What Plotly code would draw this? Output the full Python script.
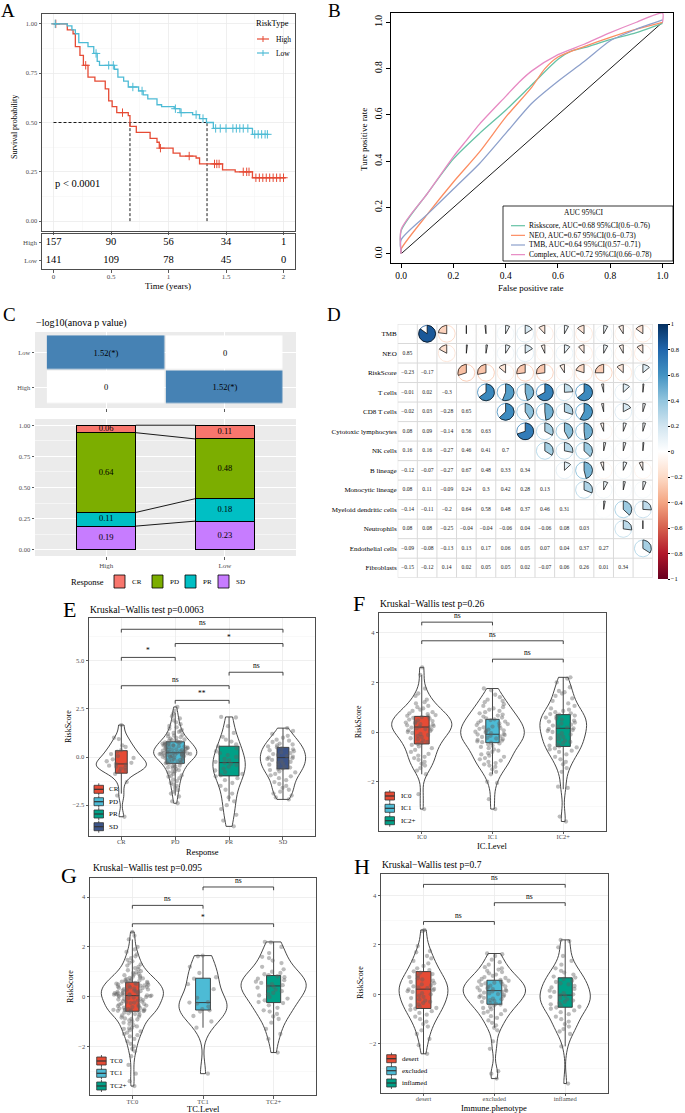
import numpy as np
import plotly.graph_objects as go

W, H = 685, 1113
FF = "Liberation Serif, Times New Roman, serif"
INK = "#333333"
TXT = "#4D4D4D"
GRID = "#EBEBEB"
NPG = ["#E64B35", "#4DBBD5", "#00A087", "#3C5488"]

# ---------------- A: Kaplan-Meier ----------------
km_high_time = [0, 0.12, 0.17, 0.19, 0.23, 0.26, 0.30, 0.36, 0.45, 0.48, 0.51, 0.55, 0.65, 0.665, 0.72, 0.84, 0.90, 0.92, 1.04, 1.10, 1.24, 1.27, 1.47, 1.58, 1.73, 2.02]
km_high_surv = [1.0, 0.97, 0.95, 0.885, 0.84, 0.79, 0.73, 0.71, 0.67, 0.61, 0.58, 0.55, 0.535, 0.48, 0.45, 0.42, 0.40, 0.37, 0.345, 0.33, 0.32, 0.29, 0.26, 0.25, 0.22, 0.22]
km_low_time = [0, 0.12, 0.16, 0.19, 0.22, 0.30, 0.35, 0.38, 0.40, 0.53, 0.56, 0.61, 0.65, 0.74, 0.78, 0.82, 0.90, 0.94, 1.05, 1.10, 1.21, 1.27, 1.33, 1.39, 1.73, 1.86]
km_low_surv = [1.0, 0.99, 0.97, 0.95, 0.905, 0.885, 0.85, 0.81, 0.79, 0.77, 0.73, 0.71, 0.68, 0.66, 0.64, 0.62, 0.59, 0.58, 0.57, 0.55, 0.54, 0.52, 0.50, 0.47, 0.44, 0.44]
km_high_censor = [0.02, 0.28, 0.60, 0.93, 1.18, 1.40, 1.42, 1.44, 1.65, 1.68, 1.70, 1.76, 1.79, 1.82, 1.85, 1.88, 1.91, 1.94, 1.97, 2.00]
km_low_censor = [0.015, 0.37, 0.48, 0.52, 0.69, 0.77, 1.06, 1.11, 1.24, 1.30, 1.41, 1.45, 1.50, 1.56, 1.59, 1.62, 1.65, 1.69, 1.75, 1.78, 1.81, 1.84, 1.86]
km_median_high = 0.665
km_median_low = 1.335
risk_times = [0, 0.5, 1, 1.5, 2]
risk_high = [157, 90, 56, 34, 1]
risk_low = [141, 109, 78, 45, 0]

# ---------------- B: ROC ----------------
roc_fpr_risk = [0, 0, 0.1, 0.2, 0.3, 0.4, 0.5, 0.6, 0.65, 0.7, 0.8, 0.9, 1.0]
roc_tpr_risk = [0, 0.10, 0.26, 0.41, 0.52, 0.62, 0.73, 0.84, 0.875, 0.89, 0.925, 0.955, 0.995]
roc_fpr_neo = [0, 0, 0.1, 0.2, 0.3, 0.4, 0.5, 0.55, 0.6, 0.7, 0.8, 0.9, 1.0]
roc_tpr_neo = [0, 0.02, 0.17, 0.31, 0.44, 0.59, 0.72, 0.80, 0.85, 0.895, 0.935, 0.97, 1.0]
roc_fpr_tmb = [0, 0, 0.1, 0.2, 0.3, 0.4, 0.5, 0.6, 0.7, 0.8, 0.9, 1.0]
roc_tpr_tmb = [0, 0.06, 0.17, 0.28, 0.39, 0.52, 0.65, 0.745, 0.83, 0.92, 0.97, 1.01]
roc_fpr_cpx = [0, 0, 0.1, 0.2, 0.25, 0.3, 0.4, 0.45, 0.5, 0.6, 0.7, 0.8, 0.9, 1.0, 1.0]
roc_tpr_cpx = [0, 0.105, 0.26, 0.42, 0.49, 0.56, 0.68, 0.74, 0.79, 0.86, 0.905, 0.955, 1.0, 1.04, 1.0]
roc_labels = ["Riskscore, AUC=0.68 95%CI(0.6\u22120.76)", "NEO, AUC=0.67 95%CI(0.6\u22120.73)",
              "TMB, AUC=0.64 95%CI(0.57\u22120.71)", "Complex, AUC=0.72 95%CI(0.66\u22120.78)"]
roc_colors = ["#66C2A5", "#FC8D62", "#8DA0CB", "#E78AC3"]

# ---------------- C ----------------
anova_z = [[0, 1.52], [1.52, 0]]          # rows: High, Low ; cols: High, Low
anova_text = [["0", "1.52(*)"], ["1.52(*)", "0"]]
anova_rows = ["High", "Low"]
resp_levels = ["CR", "PD", "PR", "SD"]
resp_colors = ["#F8766D", "#7CAE00", "#00BFC4", "#C77CFF"]
resp_high = [0.06, 0.64, 0.11, 0.19]
resp_low = [0.11, 0.48, 0.18, 0.23]
resp_groups = ["High", "Low"]

# ---------------- D: correlation ----------------
corr_labels = ["TMB", "NEO", "RiskScore", "T cells", "CD8 T cells", "Cytotoxic lymphocytes", "NK cells",
               "B lineage", "Monocytic lineage", "Myeloid dendritic cells", "Neutrophils",
               "Endothelial cells", "Fibroblasts"]
corr_lower = [
    [],
    [0.85],
    [-0.23, -0.17],
    [-0.01, 0.02, -0.3],
    [-0.02, 0.03, -0.28, 0.65],
    [0.08, 0.09, -0.14, 0.56, 0.63],
    [0.16, 0.16, -0.27, 0.46, 0.41, 0.7],
    [-0.12, -0.07, -0.27, 0.67, 0.48, 0.33, 0.34],
    [0.08, 0.11, -0.09, 0.24, 0.3, 0.42, 0.28, 0.13],
    [-0.14, -0.11, -0.2, 0.64, 0.58, 0.48, 0.37, 0.46, 0.31],
    [0.08, 0.08, -0.25, -0.04, -0.04, -0.06, 0.04, -0.06, 0.08, 0.03],
    [-0.09, -0.08, -0.13, 0.13, 0.17, 0.06, 0.05, 0.07, 0.04, 0.37, 0.27],
    [-0.15, -0.12, 0.14, 0.02, 0.05, 0.05, 0.02, -0.07, 0.06, 0.26, 0.01, 0.34],
]
RDBU = ["#67001F", "#B2182B", "#D6604D", "#F4A582", "#FDDBC7", "#FFFFFF",
        "#D1E5F0", "#92C5DE", "#4393C3", "#2166AC", "#053061"]

# ---------------- E: Response ----------------
E_cats = ["CR", "PD", "PR", "SD"]
E_CR = [1.66, 1.0, 0.93, 0.6, 0.52, 0.35, 0.28, 0.15, 0.05, -0.05, -0.12, -0.22, -0.3, -0.36, -0.4, -0.45,
        -0.5, -0.55, -0.6, -0.68, -0.75, -0.88, -1.3, -2.0, -3.1]
E_PD = [-2.4, -2.3, -2.05, -1.9, -1.8, -1.72, -1.6, -1.5, -1.42, -1.35, -1.25, -1.18, -1.1, -1.02, -0.98, -0.95,
        -0.88, -0.8, -0.77, -0.74, -0.68, -0.62, -0.58, -0.55, -0.5, -0.48, -0.45, -0.4, -0.36, -0.33,
        -0.31, -0.28, -0.26, -0.23, -0.2, -0.18, -0.15, -0.12, -0.1, -0.08, -0.05, -0.03, -0.01, 0.01, 0.03,
        0.05, 0.06, 0.08, 0.09, 0.11, 0.12, 0.13, 0.15, 0.16, 0.17, 0.18, 0.19, 0.2, 0.21, 0.22,
        0.24, 0.26, 0.27, 0.29, 0.31, 0.33, 0.35, 0.36, 0.38, 0.4, 0.42, 0.44, 0.46, 0.48, 0.5, 0.52, 0.54,
        0.56, 0.58, 0.6, 0.62, 0.64, 0.66, 0.68, 0.7, 0.72, 0.74, 0.76, 0.78, 0.79,
        0.82, 0.85, 0.88, 0.91, 0.95, 0.99, 1.03, 1.07, 1.11, 1.15, 1.2, 1.25, 1.3, 1.35, 1.41, 1.47, 1.54,
        1.61, 1.7, 1.8, 1.9, 2.0, 2.12, 2.25, 2.4, 2.6]
E_PR = [2.08, 2.05, 1.6, 1.25, 1.05, 0.9, 0.8, 0.65, 0.55, 0.45, 0.3, 0.2, 0.1, 0.0, -0.1, -0.18, -0.25, -0.3,
        -0.35, -0.42, -0.5, -0.6, -0.7, -0.78, -0.88, -0.95, -1.0, -1.1, -1.2, -1.35, -1.5, -1.7, -1.9, -2.1,
        -2.3, -2.5, -2.7, -3.0, -3.3, -3.6]
E_SD = [1.5, 1.35, 1.2, 1.1, 1.0, 0.9, 0.85, 0.78, 0.7, 0.65, 0.6, 0.55, 0.5, 0.45, 0.4, 0.35, 0.3, 0.25, 0.2,
        0.15, 0.1, 0.05, 0.02, -0.03, -0.06, -0.1, -0.15, -0.2, -0.25, -0.3, -0.35, -0.4, -0.45, -0.5, -0.55,
        -0.6, -0.62, -0.68, -0.75, -0.8, -0.88, -0.95, -1.0, -1.1, -1.2, -1.3, -1.4, -1.5, -1.6, -1.7, -1.8,
        -1.9, -2.0, -2.1, -2.2]
E_q1 = [-0.84, -0.33, -0.98, -0.62]
E_med = [-0.36, 0.22, -0.29, -0.03]
E_q3 = [0.33, 0.79, 0.56, 0.50]
E_lo = [-1.9, -2.0, -2.3, -2.2]
E_hi = [1.68, 2.3, 2.07, 1.5]
E_br_from = [1, 2, 1, 3, 1, 2]
E_br_to = [4, 4, 2, 4, 3, 3]
E_br_y = [6.63, 5.89, 5.17, 4.40, 3.70, 2.94]
E_br_lab = ["ns", "*", "*", "ns", "ns", "**"]

# ---------------- F: IC level ----------------
F_cats = ["IC0", "IC1", "IC2+"]
F_IC0 = [2.6, 2.3, 1.75, 1.55, 1.45, 1.3, 1.2, 1.15, 1.05, 1.0, 0.95, 0.9, 0.85, 0.8, 0.75, 0.72, 0.68, 0.65,
         0.63, 0.6, 0.57, 0.54, 0.5, 0.47, 0.44, 0.41, 0.38, 0.35, 0.32, 0.3, 0.27, 0.24, 0.22, 0.2, 0.18,
         0.15, 0.12, 0.1, 0.07, 0.04, 0.0, -0.04, -0.08, -0.12, -0.16, -0.2, -0.25, -0.3, -0.35, -0.4, -0.45,
         -0.48, -0.52, -0.58, -0.65, -0.72, -0.8, -0.88, -0.95, -1.0, -1.05, -1.12, -1.2, -1.28, -1.35,
         -1.45, -1.55, -1.7, -2.5, -3.1]
F_IC1 = [1.75, 1.68, 1.5, 1.4, 1.3, 1.25, 1.2, 1.12, 1.05, 1.0, 0.95, 0.9, 0.85, 0.8, 0.75, 0.7, 0.66, 0.62,
         0.58, 0.55, 0.51, 0.48, 0.45, 0.42, 0.38, 0.35, 0.32, 0.28, 0.25, 0.22, 0.19, 0.16, 0.13, 0.1, 0.07,
         0.04, 0.01, -0.02, -0.05, -0.08, -0.1, -0.12, -0.15, -0.18, -0.2, -0.23, -0.26, -0.29, -0.32, -0.35,
         -0.38, -0.41, -0.43, -0.46, -0.5, -0.55, -0.6, -0.65, -0.7, -0.75, -0.8, -0.85, -0.9, -0.95, -1.0,
         -1.05, -1.1, -1.15, -1.2, -1.25, -1.3, -1.35, -1.4, -1.5, -1.6, -1.7, -2.0, -2.05, -2.7, -3.1]
F_IC2 = [2.2, 2.15, 2.0, 1.8, 1.65, 1.6, 1.55, 1.45, 1.35, 1.25, 1.15, 1.05, 0.95, 0.9, 0.85, 0.8, 0.75, 0.72,
         0.7, 0.66, 0.62, 0.58, 0.54, 0.5, 0.46, 0.42, 0.38, 0.34, 0.3, 0.26, 0.22, 0.18, 0.15, 0.12, 0.08,
         0.04, 0.0, -0.05, -0.1, -0.15, -0.2, -0.25, -0.3, -0.35, -0.4, -0.45, -0.5, -0.55, -0.58, -0.62,
         -0.66, -0.7, -0.75, -0.8, -0.9, -1.0, -1.1, -1.2, -1.3, -1.45, -1.6, -2.2, -2.25, -3.4, -3.6]
F_q1 = [-0.48, -0.43, -0.58]
F_med = [0.20, -0.09, 0.15]
F_q3 = [0.63, 0.51, 0.70]
F_lo = [-1.7, -1.7, -2.3]
F_hi = [2.3, 1.75, 2.2]
F_br_from = [1, 1, 2]
F_br_to = [2, 3, 3]
F_br_y = [4.42, 3.67, 2.93]
F_br_lab = ["ns", "ns", "ns"]

# ---------------- G: TC level ----------------
G_cats = ["TC0", "TC1", "TC2+"]
G_TC0 = [2.6, 2.45, 2.3, 2.0, 1.9, 1.8, 1.7, 1.62, 1.55, 1.48, 1.42, 1.36, 1.3, 1.25, 1.2, 1.15, 1.1, 1.06,
         1.02, 0.98, 0.95, 0.92, 0.89, 0.86, 0.83, 0.8, 0.77, 0.75, 0.73, 0.71, 0.69, 0.67, 0.65, 0.63, 0.61,
         0.6, 0.59, 0.57, 0.55, 0.54, 0.52, 0.5, 0.49, 0.47, 0.45, 0.44, 0.42, 0.4, 0.39, 0.37, 0.35, 0.34,
         0.32, 0.3, 0.29, 0.27, 0.25, 0.24, 0.22, 0.2, 0.19, 0.17, 0.16, 0.14, 0.13, 0.12, 0.1, 0.09, 0.08,
         0.07, 0.06, 0.05, 0.05, 0.04, 0.03, 0.02, 0.0, -0.02, -0.04, -0.06, -0.08, -0.1, -0.12, -0.14, -0.16,
         -0.18, -0.2, -0.22, -0.24, -0.26, -0.28, -0.3, -0.32, -0.34, -0.36, -0.38, -0.4, -0.42, -0.44, -0.46,
         -0.48, -0.5, -0.51, -0.52, -0.53, -0.54, -0.55, -0.56, -0.57, -0.58, -0.59, -0.61, -0.64, -0.67,
         -0.7, -0.73, -0.76, -0.8, -0.84, -0.88, -0.9, -0.92, -0.96, -1.0, -1.05, -1.1, -1.15, -1.2, -1.25,
         -1.28, -1.3, -1.35, -1.4, -1.45, -1.5, -1.55, -1.6, -1.7, -1.8, -1.9, -2.0, -2.1, -2.2, -2.4, -2.75,
         -3.1, -3.4, -3.6]
G_TC1 = [1.65, 1.62, 1.2, 0.95, 0.78, 0.72, 0.5, 0.3, -0.05, -0.22, -0.24, -0.28, -0.4, -0.5, -0.55, -0.6,
         -0.78, -1.0, -1.25, -3.1]
G_TC2 = [2.2, 2.18, 2.0, 1.75, 1.6, 1.55, 1.45, 1.35, 1.2, 1.1, 1.0, 0.95, 0.9, 0.86, 0.82, 0.78, 0.72, 0.66,
         0.6, 0.55, 0.5, 0.46, 0.43, 0.4, 0.36, 0.32, 0.28, 0.22, 0.15, 0.1, 0.05, -0.02, -0.08, -0.15, -0.22,
         -0.26, -0.35, -0.45, -0.55, -0.6, -0.7, -0.8, -0.9, -1.05, -1.3, -1.5, -1.7, -2.25]
G_q1 = [-0.59, -0.54, -0.24]
G_med = [0.04, -0.24, 0.43]
G_q3 = [0.58, 0.74, 0.85]
G_lo = [-2.2, -1.25, -2.25]
G_hi = [2.3, 1.65, 2.2]
G_br_from = [2, 1, 1]
G_br_to = [3, 2, 3]
G_br_y = [4.41, 3.67, 2.93]
G_br_lab = ["ns", "ns", "*"]

# ---------------- H: Immune phenotype ----------------
H_cats = ["desert", "excluded", "inflamed"]
H_des = [2.6, 2.55, 1.95, 1.75, 1.7, 1.55, 1.45, 1.35, 1.25, 1.15, 1.05, 0.98, 0.93, 0.88, 0.82, 0.76, 0.7,
         0.65, 0.6, 0.55, 0.5, 0.45, 0.4, 0.36, 0.32, 0.28, 0.25, 0.22, 0.2, 0.17, 0.13, 0.1, 0.05, 0.0,
         -0.05, -0.1, -0.15, -0.2, -0.25, -0.3, -0.35, -0.4, -0.45, -0.5, -0.55, -0.58, -0.62, -0.68, -0.75,
         -0.82, -0.9, -1.0, -1.1, -1.2, -1.3, -1.45, -1.6, -1.8, -2.05, -2.4]
H_exc = [1.65, 1.62, 1.55, 1.4, 1.3, 1.2, 1.1, 1.05, 1.0, 0.95, 0.9, 0.85, 0.8, 0.75, 0.7, 0.66, 0.62, 0.58,
         0.55, 0.52, 0.5, 0.47, 0.44, 0.41, 0.38, 0.35, 0.32, 0.3, 0.27, 0.24, 0.21, 0.18, 0.16, 0.14, 0.12,
         0.1, 0.07, 0.04, 0.01, -0.02, -0.05, -0.08, -0.11, -0.14, -0.17, -0.2, -0.23, -0.26, -0.3, -0.34,
         -0.38, -0.41, -0.45, -0.5, -0.55, -0.6, -0.65, -0.7, -0.75, -0.8, -0.88, -0.95, -1.05, -1.15, -1.25,
         -1.35, -1.45, -1.9, -2.2, -3.1, -3.2, -3.4]
H_inf = [2.2, 2.15, 1.9, 1.55, 1.35, 1.2, 1.05, 0.95, 0.88, 0.8, 0.72, 0.68, 0.62, 0.55, 0.5, 0.45, 0.4, 0.34,
         0.28, 0.22, 0.15, 0.1, 0.05, 0.0, -0.03, -0.06, -0.1, -0.15, -0.2, -0.25, -0.3, -0.35, -0.4, -0.45,
         -0.5, -0.53, -0.58, -0.65, -0.72, -0.8, -0.9, -1.0, -1.1, -1.2, -1.3, -1.4, -1.5, -1.6, -2.1, -3.6]
H_q1 = [-0.57, -0.40, -0.52]
H_med = [0.21, 0.15, -0.03]
H_q3 = [0.92, 0.57, 0.67]
H_lo = [-2.4, -1.35, -2.1]
H_hi = [2.6, 1.65, 2.2]
H_br_from = [1, 2, 1]
H_br_to = [3, 3, 2]
H_br_y = [4.44, 3.70, 2.94]
H_br_lab = ["ns", "ns", "ns"]

# ================= helpers =================
def X(p):
    return p / W


def Y(p):
    return 1 - p / H


def xdom(a, b):
    return [a / W, b / W]


def ydom(top, bot):
    return [1 - bot / H, 1 - top / H]


fig = go.Figure()
shapes = []
annos = []


def text(x, y, s, size, xanchor="center", yanchor="middle", color="black", angle=0, xref="paper", yref="paper"):
    if xref == "paper":
        x = X(x)
    if yref == "paper":
        y = Y(y)
    annos.append(dict(x=x, y=y, xref=xref, yref=yref, text=s, showarrow=False, xanchor=xanchor,
                      yanchor=yanchor, textangle=angle, borderpad=0,
                      font=dict(size=size, color=color, family=FF)))


def pline(x0, y0, x1, y1, color=INK, width=0.8, dash=None):
    ln = dict(color=color, width=width)
    if dash:
        ln["dash"] = dash
    shapes.append(dict(type="line", xref="paper", yref="paper", x0=X(x0), y0=Y(y0), x1=X(x1), y1=Y(y1), line=ln))


def prect(x0, y0, x1, y1, fill, color=INK, width=0.8):
    shapes.append(dict(type="rect", xref="paper", yref="paper", x0=X(x0), y0=Y(y1), x1=X(x1), y1=Y(y0),
                       fillcolor=fill, line=dict(color=color, width=width)))


def bw_axis(domain, rng, anchor, dtick=None, tick0=0, fmt=None, labels=True, minor=None,
            tickvals=None, ticktext=None, grid=True, size=6.5, standoff=0):
    a = dict(domain=domain, range=rng, anchor=anchor, showline=True, mirror=True, linecolor=TXT, linewidth=1,
             ticks="outside", ticklen=2.5, tickwidth=0.8, tickcolor=INK,
             tickfont=dict(size=size, color=TXT), showgrid=grid, gridcolor=GRID, gridwidth=0.8,
             zeroline=False, showticklabels=labels)
    if standoff:
        a["ticklabelstandoff"] = standoff
    if tickvals is not None:
        a.update(tickmode="array", tickvals=tickvals)
        if ticktext is not None:
            a["ticktext"] = ticktext
    elif dtick is not None:
        a.update(tickmode="linear", tick0=tick0, dtick=dtick)
    if fmt:
        a["tickformat"] = fmt
    if minor:
        a["minor"] = dict(dtick=minor, tick0=tick0, showgrid=True, gridcolor="#F3F3F3", gridwidth=0.5, ticks="")
    return a


def hex2rgb(h):
    return tuple(int(h[i:i + 2], 16) for i in (1, 3, 5))


def corr_color(r):
    t = (r + 1) / 2 * (len(RDBU) - 1)
    i = min(int(np.floor(t)), len(RDBU) - 2)
    f = t - i
    a, b = hex2rgb(RDBU[i]), hex2rgb(RDBU[i + 1])
    c = [round(a[k] + (b[k] - a[k]) * f) for k in range(3)]
    return "rgb(%d,%d,%d)" % tuple(c)


layout_axes = {}

# ================= A =================
layout_axes["xaxis"] = bw_axis(xdom(42, 295), [-0.1, 2.1], "y", dtick=0.5, labels=False, minor=0.25)
layout_axes["yaxis"] = bw_axis(ydom(14, 231), [-0.05, 1.05], "x", dtick=0.25, fmt=".2f", minor=0.125)
layout_axes["xaxis2"] = bw_axis(xdom(42, 295), [-0.1, 2.1], "y2", dtick=0.5, grid=False, size=7, standoff=-2)
layout_axes["yaxis2"] = bw_axis(ydom(234, 269), [-0.5, 1.5], "x2", tickvals=[0, 1], ticktext=["Low", "High"],
                                grid=False, size=7)

for m in [km_median_high, km_median_low]:
    fig.add_trace(go.Scatter(x=[m, m], y=[0, 0.5], mode="lines", xaxis="x", yaxis="y", hoverinfo="skip",
                             line=dict(color="black", width=0.9, dash="3px,2px")))
fig.add_trace(go.Scatter(x=[0, km_median_low], y=[0.5, 0.5], mode="lines", xaxis="x", yaxis="y", hoverinfo="skip",
                         line=dict(color="black", width=0.9, dash="3px,2px")))
for times, surv, cens, col in [(km_high_time, km_high_surv, km_high_censor, NPG[0]),
                               (km_low_time, km_low_surv, km_low_censor, NPG[1])]:
    fig.add_trace(go.Scatter(x=times, y=surv, mode="lines", xaxis="x", yaxis="y", hoverinfo="skip",
                             line=dict(color=col, width=1.3, shape="hv")))
    sv = np.asarray(surv)
    cy = [float(sv[np.searchsorted(times, t, side="right") - 1]) for t in cens]
    fig.add_trace(go.Scatter(x=cens, y=cy, mode="markers", xaxis="x", yaxis="y", hoverinfo="skip",
                             marker=dict(symbol="cross-thin", size=6, line=dict(color=col, width=1))))
fig.add_trace(go.Scatter(x=risk_times, y=[1] * len(risk_times), mode="text", text=[str(v) for v in risk_high],
                         xaxis="x2", yaxis="y2", textfont=dict(size=10.5, color="black"), hoverinfo="skip"))
fig.add_trace(go.Scatter(x=risk_times, y=[0] * len(risk_times), mode="text", text=[str(v) for v in risk_low],
                         xaxis="x2", yaxis="y2", textfont=dict(size=10.5, color="black"), hoverinfo="skip"))
text(0.0, 0.19, "p &lt; 0.0001", 10.5, xanchor="left", xref="x", yref="y")
text(15, 127, "Survival probability", 8, angle=-90)
text(168, 286, "Time (years)", 9)
# legend A
text(290, 23, "RiskType", 8.5, xanchor="right")
for k, (lab, col) in enumerate([("High", NPG[0]), ("Low", NPG[1])]):
    yy = 39 + 14 * k
    pline(257, yy, 269, yy, color=col, width=1.2)
    pline(263, yy - 3, 263, yy + 3, color=col, width=1)
    text(275, yy, lab, 7.5, xanchor="left")

# ================= B =================
rax = dict(showline=True, mirror=True, linecolor="black", linewidth=1, ticks="outside", ticklen=4,
           tickcolor="black", tickfont=dict(size=9.5, color="black"), showgrid=False, zeroline=False,
           tickmode="linear", tick0=0, dtick=0.2, tickformat=".1f")
layout_axes["xaxis3"] = dict(rax, domain=xdom(390.7, 673), range=[-0.04, 1.04], anchor="y3")
layout_axes["yaxis3"] = dict(rax, domain=ydom(13, 263), range=[-0.04, 1.04], anchor="x3", tickangle=-90)
fig.add_trace(go.Scatter(x=[0, 1], y=[0, 1], mode="lines", xaxis="x3", yaxis="y3", hoverinfo="skip",
                         line=dict(color="black", width=0.9)))
for fx, ty, col in [(roc_fpr_risk, roc_tpr_risk, roc_colors[0]), (roc_fpr_neo, roc_tpr_neo, roc_colors[1]),
                    (roc_fpr_tmb, roc_tpr_tmb, roc_colors[2]), (roc_fpr_cpx, roc_tpr_cpx, roc_colors[3])]:
    fig.add_trace(go.Scatter(x=fx, y=ty, mode="lines", xaxis="x3", yaxis="y3", hoverinfo="skip",
                             line=dict(color=col, width=1.3, shape="spline", smoothing=0.7)))
prect(503, 206, 673, 261, "white", color="black", width=0.8)
text(583, 212, "AUC 95%CI", 7.5)
for k, (lab, col) in enumerate(zip(roc_labels, roc_colors)):
    yy = 225.7 + 9.65 * k
    pline(511, yy, 525, yy, color=col, width=1.2)
    text(528, yy, lab, 7.5, xanchor="left")
text(530, 288, "False positive rate", 9)
text(364, 140, "Ture positive rate", 9, angle=-90)

# ================= C =================
gax = dict(showline=False, ticks="outside", ticklen=2.5, tickwidth=0.8, tickcolor=INK,
           tickfont=dict(size=6.5, color=TXT), showgrid=True, gridcolor="white", gridwidth=1, zeroline=False)
layout_axes["xaxis4"] = dict(gax, domain=xdom(35, 296), range=[0.4, 2.6], anchor="y4", tickmode="array",
                             tickvals=[1, 2], ticktext=["", ""])
layout_axes["yaxis4"] = dict(gax, domain=ydom(332, 408), range=[0.4, 2.6], anchor="x4", tickmode="array",
                             tickvals=[1, 2], ticktext=anova_rows)
layout_axes["xaxis5"] = dict(gax, domain=xdom(35, 296), range=[0.4, 2.6], anchor="y5", tickmode="array",
                             tickvals=[1, 2], ticktext=resp_groups, tickfont=dict(size=7, color=TXT))
layout_axes["yaxis5"] = dict(gax, domain=ydom(419, 556), range=[-0.05, 1.05], anchor="x5", tickmode="linear",
                             tick0=0, dtick=0.25, tickformat=".2f",
                             minor=dict(dtick=0.125, tick0=0, showgrid=True, gridcolor="white", gridwidth=0.5,
                                        ticks=""))
for ax in ["x4", "x5"]:
    yref = "y4" if ax == "x4" else "y5"
    shapes.append(dict(type="rect", xref=ax + " domain", yref=yref + " domain", x0=0, x1=1, y0=0, y1=1,
                       fillcolor="#EBEBEB", line=dict(width=0), layer="below"))
fig.add_trace(go.Heatmap(x=[1, 2], y=[1, 2], z=anova_z, text=anova_text, texttemplate="%{text}",
                         textfont=dict(size=8.5, color="black", family=FF),
                         colorscale=[[0, "white"], [1, "#4682B4"]], zmin=0, zmax=1.52, showscale=False,
                         xgap=1.5, ygap=1.5, xaxis="x4", yaxis="y4", hoverinfo="skip"))
text(35, 323, "\u2212log10(anova p value)", 10, xanchor="left")

bar_width = 0.5
stack_order = [3, 2, 1, 0]  # SD bottom ... CR top
for k in stack_order:
    fig.add_trace(go.Bar(x=[1, 2], y=[resp_high[k], resp_low[k]], width=bar_width, xaxis="x5", yaxis="y5",
                         marker=dict(color=resp_colors[k], line=dict(color="black", width=1)), hoverinfo="skip"))
vh = np.array([resp_high[k] for k in stack_order])
vl = np.array([resp_low[k] for k in stack_order])
ch, cl = np.cumsum(vh), np.cumsum(vl)
fig.add_trace(go.Scatter(x=[1] * 4 + [2] * 4, y=list(ch - vh / 2) + list(cl - vl / 2), mode="text",
                         text=["%.2f" % v for v in vh] + ["%.2f" % v for v in vl], xaxis="x5", yaxis="y5",
                         textfont=dict(size=8.5, color="black"), hoverinfo="skip"))
for a, b in zip(ch, cl):
    fig.add_trace(go.Scatter(x=[1 + bar_width / 2, 2 - bar_width / 2], y=[a, b], mode="lines", xaxis="x5",
                             yaxis="y5", line=dict(color="black", width=0.9), hoverinfo="skip"))
# legend C
text(70, 582, "Response", 8.5, xanchor="left")
for k, (lab, col) in enumerate(zip(resp_levels, resp_colors)):
    x0 = [114, 152, 185, 218][k]
    prect(x0, 575, x0 + 11, 588, col, color="black", width=0.8)
    text(x0 + 17, 582, lab, 7, xanchor="left")

# ================= D =================
n = len(corr_labels)
M = np.eye(n)
for i, row in enumerate(corr_lower):
    for j, v in enumerate(row):
        M[i, j] = v
        M[j, i] = v
layout_axes["xaxis6"] = dict(domain=xdom(397.7, 652.7), range=[0.5, n + 0.5], anchor="y6", showgrid=False,
                             zeroline=False, showticklabels=False, ticks="")
layout_axes["yaxis6"] = dict(domain=ydom(324, 577.7), range=[n + 0.5, 0.5], anchor="x6", showgrid=False,
                             zeroline=False, tickmode="array", tickvals=list(range(1, n + 1)),
                             ticktext=corr_labels, ticks="", tickfont=dict(size=7, color="black"))
for k in range(n + 1):
    g = k + 0.5
    shapes.append(dict(type="line", xref="x6", yref="y6", x0=g, x1=g, y0=0.5, y1=n + 0.5,
                       line=dict(color="#D9D9D9", width=1), layer="below"))
    shapes.append(dict(type="line", xref="x6", yref="y6", x0=0.5, x1=n + 0.5, y0=g, y1=g,
                       line=dict(color="#D9D9D9", width=1), layer="below"))
R = 0.43
circ = np.linspace(0, 2 * np.pi, 61)
for i in range(n):
    for j in range(i + 1, n):
        r = M[i, j]
        cx, cy = j + 1, i + 1
        col = corr_color(r)
        fig.add_trace(go.Scatter(x=cx + R * np.sin(circ), y=cy - R * np.cos(circ), mode="lines", xaxis="x6",
                                 yaxis="y6", line=dict(color=col, width=0.8), hoverinfo="skip"))
        ang = np.linspace(0, 2 * np.pi * r, max(3, int(abs(r) * 80) + 2))
        px_ = [cx] + list(cx + R * np.sin(ang)) + [cx]
        py_ = [cy] + list(cy - R * np.cos(ang)) + [cy]
        fig.add_trace(go.Scatter(x=px_, y=py_, mode="lines", fill="toself", fillcolor=col, xaxis="x6",
                                 yaxis="y6", line=dict(color="black", width=0.7), hoverinfo="skip"))
lx, ly, lt = [], [], []
for i in range(n):
    for j in range(i):
        lx.append(j + 1)
        ly.append(i + 1)
        lt.append(("%g" % M[i, j]).replace("-", "\u2212"))
fig.add_trace(go.Scatter(x=lx, y=ly, text=lt, mode="text", xaxis="x6", yaxis="y6",
                         textfont=dict(size=5.6, color="#222222"), hoverinfo="skip"))
cb_vals = [1, 0.8, 0.6, 0.4, 0.2, 0, -0.2, -0.4, -0.6, -0.8, -1]
fig.add_trace(go.Scatter(x=[1], y=[1], mode="markers", xaxis="x6", yaxis="y6", hoverinfo="skip",
                         marker=dict(size=1, opacity=0, color=[0], cmin=-1, cmax=1,
                                     colorscale=[[k / 10, c] for k, c in enumerate(RDBU)], showscale=True,
                                     colorbar=dict(x=X(658), xanchor="left", y=Y(451.5), yanchor="middle",
                                                   len=(579 - 324) / H, lenmode="fraction", thickness=10,
                                                   thicknessmode="pixels", outlinewidth=0, xpad=0, ypad=0,
                                                   tickmode="array", tickvals=cb_vals,
                                                   ticktext=[("%g" % v).replace("-", "\u2212") for v in cb_vals],
                                                   ticks="outside", ticklen=2, tickcolor="black",
                                                   tickfont=dict(size=6.5, color="black", family=FF)))))


# ================= E-H =================
def vpanel(ax, groups, cats, q1, med, q3, lo, hi, vwid, bwid, pwid, bfrom, bto, by, blab, tip):
    xa, ya = "x" + ax, "y" + ax
    for k, vals in enumerate(groups):
        y = np.asarray(vals, dtype=float)
        iqr = np.percentile(y, 75) - np.percentile(y, 25)
        bwd = 0.9 * min(y.std(ddof=1), iqr / 1.34) * len(y) ** -0.2
        fig.add_trace(go.Violin(x=[k + 1] * len(vals), y=vals, xaxis=xa, yaxis=ya, points=False,
                                spanmode="hard", bandwidth=bwd, width=vwid[k], scalemode="width",
                                fillcolor="white", line=dict(color=INK, width=0.9), hoverinfo="skip",
                                box_visible=False, meanline_visible=False))
    for k in range(len(groups)):
        fig.add_trace(go.Box(x=[k + 1], q1=[q1[k]], median=[med[k]], q3=[q3[k]], lowerfence=[lo[k]],
                             upperfence=[hi[k]], orientation="v", width=bwid[k], xaxis=xa, yaxis=ya,
                             fillcolor=NPG[k], line=dict(color=INK, width=0.9), whiskerwidth=0,
                             boxpoints=False, hoverinfo="skip"))
    for k, vals in enumerate(groups):
        fig.add_trace(go.Box(x=[k + 1] * len(vals), y=vals, xaxis=xa, yaxis=ya, boxpoints="all", jitter=1,
                             pointpos=0, width=pwid, fillcolor="rgba(0,0,0,0)",
                             line=dict(color="rgba(0,0,0,0)", width=0), whiskerwidth=0, hoverinfo="skip",
                             marker=dict(color="rgba(95,95,95,0.42)", size=4.3)))
    for a, b, yv, lab in zip(bfrom, bto, by, blab):
        fig.add_trace(go.Scatter(x=[a, a, b, b], y=[yv - tip, yv, yv, yv - tip], mode="lines", xaxis=xa,
                                 yaxis=ya, line=dict(color=INK, width=0.9), hoverinfo="skip"))
        annos.append(dict(x=(a + b) / 2, y=yv, xref=xa, yref=ya, text=lab, showarrow=False, yanchor="bottom",
                          yshift=0, font=dict(size=7.5, color="black", family=FF)))


layout_axes["xaxis7"] = bw_axis(xdom(89, 315.3), [0.4, 4.6], "y7", tickvals=[1, 2, 3, 4], ticktext=E_cats,
                                standoff=-3)
layout_axes["yaxis7"] = bw_axis(ydom(618.3, 836), [-4.1, 7.2], "x7", dtick=2.5, fmt=".1f", minor=1.25)
layout_axes["xaxis8"] = bw_axis(xdom(379.3, 605.7), [0.4, 3.6], "y8", tickvals=[1, 2, 3], ticktext=F_cats,
                                standoff=-3)
layout_axes["yaxis8"] = bw_axis(ydom(612.7, 830.7), [-3.97, 4.8], "x8", dtick=2, minor=1)
layout_axes["xaxis9"] = bw_axis(xdom(90, 316), [0.4, 3.6], "y9", tickvals=[1, 2, 3], ticktext=G_cats,
                                standoff=-3)
layout_axes["yaxis9"] = bw_axis(ydom(878.3, 1095.3), [-3.97, 4.76], "x9", dtick=2, minor=1)
layout_axes["xaxis10"] = bw_axis(xdom(381, 607.7), [0.4, 3.6], "y10", tickvals=[1, 2, 3], ticktext=H_cats,
                                 standoff=-3)
layout_axes["yaxis10"] = bw_axis(ydom(874, 1092.7), [-3.97, 4.86], "x10", dtick=2, minor=1)

vpanel("7", [E_CR, E_PD, E_PR, E_SD], E_cats, E_q1, E_med, E_q3, E_lo, E_hi, [0.93, 0.8, 0.6, 0.84],
       [0.22, 0.34, 0.37, 0.22], 0.62, E_br_from, E_br_to, E_br_y, E_br_lab, 0.17)
vpanel("8", [F_IC0, F_IC1, F_IC2], F_cats, F_q1, F_med, F_q3, F_lo, F_hi, [0.85, 0.9, 0.66],
       [0.21, 0.19, 0.2], 0.5, F_br_from, F_br_to, F_br_y, F_br_lab, 0.13)
vpanel("9", [G_TC0, G_TC1, G_TC2], G_cats, G_q1, G_med, G_q3, G_lo, G_hi, [0.88, 0.68, 0.92],
       [0.19, 0.21, 0.2], 0.55, G_br_from, G_br_to, G_br_y, G_br_lab, 0.13)
vpanel("10", [H_des, H_exc, H_inf], H_cats, H_q1, H_med, H_q3, H_lo, H_hi, [0.69, 0.88, 0.71],
       [0.21, 0.21, 0.2], 0.5, H_br_from, H_br_to, H_br_y, H_br_lab, 0.13)


def box_key(x0, x1, yc, color):
    xm = (x0 + x1) / 2
    pline(xm, yc - 6, xm, yc + 6, color=INK, width=0.8)
    prect(x0, yc - 4, x1, yc + 4, color, color=INK, width=0.8)
    pline(x0, yc, x1, yc, color=INK, width=1.2)


for cats, xk, xt, ys in [(E_cats, 94, 108, [789.3, 801.7, 814, 826.7]),
                         (F_cats, 385, 399.5, [796, 808.3, 820.7]),
                         (G_cats, 96.7, 108.5, [1061, 1073.3, 1086]),
                         (H_cats, 386.7, 401, [1058.7, 1070.7, 1083])]:
    for k, (lab, yy) in enumerate(zip(cats, ys)):
        box_key(xk, xk + 9.5, yy, NPG[k])
        text(xt, yy, lab, 7, xanchor="left")

# titles and axis titles for E-H
text(89.3, 610, "Kruskal\u2212Wallis test p=0.0063", 9.5, xanchor="left")
text(379.3, 604, "Kruskal\u2212Wallis test p=0.26", 9.5, xanchor="left")
text(91.7, 868, "Kruskal\u2212Wallis test p=0.095", 9.5, xanchor="left")
text(380.7, 865, "Kruskal\u2212Wallis test p=0.7", 9.5, xanchor="left")
text(68, 727, "RiskScore", 8, angle=-90)
text(202, 852, "Response", 8.5)
text(358.3, 722, "RiskScore", 8, angle=-90)
text(492.5, 846.3, "IC.Level", 8.5)
text(70, 987, "RiskScore", 8, angle=-90)
text(203, 1108.5, "TC.Level", 8.5)
text(360, 983, "RiskScore", 8, angle=-90)
text(494, 1107.5, "Immune.phenotype", 8.5)

# panel letters
for lab, x, y, s in [("A", 8, 11, 19), ("B", 334, 11, 19), ("C", 9, 315, 19), ("D", 334, 315, 19),
                     ("E", 69, 609, 22), ("F", 359, 603, 22), ("G", 69, 875, 22), ("H", 362, 866, 22)]:
    text(x, y, lab, s)

fig.update_layout(width=W, height=H, margin=dict(l=0, r=0, t=0, b=0), paper_bgcolor="white",
                  plot_bgcolor="rgba(0,0,0,0)", showlegend=False, font=dict(family=FF, color="black"),
                  boxmode="overlay", violinmode="overlay", barmode="stack", shapes=shapes, annotations=annos,
                  hovermode=False, **layout_axes)
fig.write_html("out.html", config={"displayModeBar": False, "staticPlot": True},
               post_script="document.body.style.margin='0';document.body.style.overflow='hidden';")
